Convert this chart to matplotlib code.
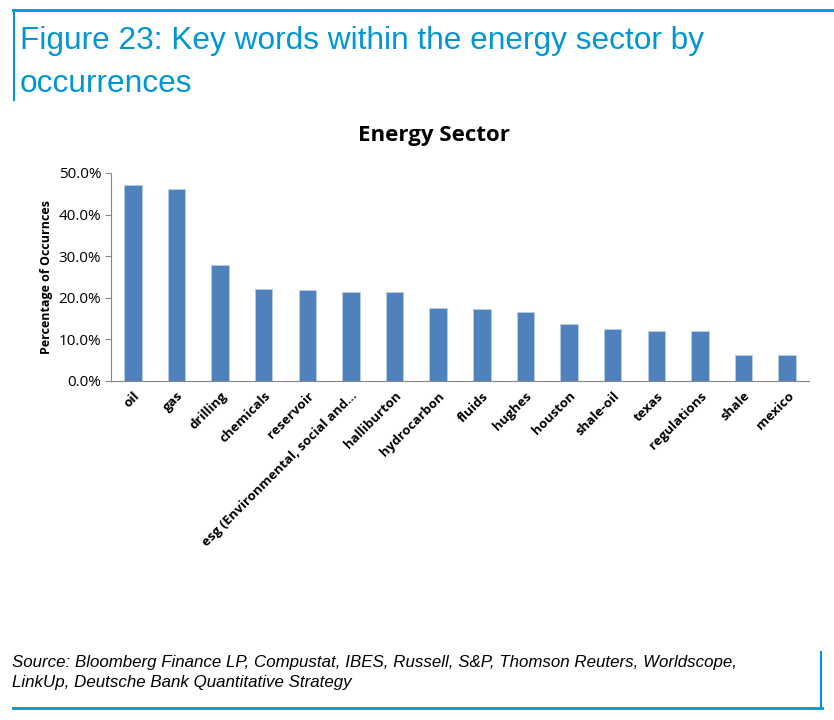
import matplotlib
matplotlib.use("Agg")
import matplotlib.pyplot as plt
from matplotlib.ticker import FuncFormatter, MultipleLocator
from matplotlib.lines import Line2D

categories = ["oil", "gas", "drilling", "chemicals", "reservoir",
              "esg (Environmental, social and...", "halliburton", "hydrocarbon",
              "fluids", "hughes", "houston", "shale-oil", "texas", "regulations",
              "shale", "mexico"]
values = [47.1, 46.2, 27.8, 22.1, 21.9, 21.4, 21.4, 17.5, 17.2, 16.7,
          13.6, 12.5, 12.0, 12.0, 6.25, 6.2]

W, H = 834, 720
fig = plt.figure(figsize=(W / 100, H / 100), dpi=100)

blue = "#0096D6"
# frame lines
fig.add_artist(Line2D([13 / W, 1.0], [1 - 10 / H, 1 - 10 / H], color=blue, lw=2))
fig.add_artist(Line2D([14 / W, 14 / W], [1 - 10 / H, 1 - 100 / H], color=blue, lw=1.5))
fig.add_artist(Line2D([13 / W, 822 / W], [1 - 708 / H, 1 - 708 / H], color=blue, lw=2))
fig.add_artist(Line2D([821 / W, 821 / W], [1 - 652 / H, 1 - 708 / H], color=blue, lw=1.5))

title_font = ["Liberation Sans", "DejaVu Sans"]
fig.text(20 / W, 1 - 41 / H, "Figure 23: Key words within the energy sector by",
         color=blue, fontsize=22.8, family=title_font, va="center", ha="left")
fig.text(20 / W, 1 - 84 / H, "occurrences",
         color=blue, fontsize=22.8, family=title_font, va="center", ha="left")

fig.text(12 / W, 1 - 662 / H,
         "Source: Bloomberg Finance LP, Compustat, IBES, Russell, S&P, Thomson Reuters, Worldscope,",
         fontsize=12.2, style="italic", family=title_font, va="center", ha="left")
fig.text(12 / W, 1 - 683 / H, "LinkUp, Deutsche Bank Quantitative Strategy",
         fontsize=12.2, style="italic", family=title_font, va="center", ha="left")

chart_font = ["Open Sans", "DejaVu Sans"]
ax = fig.add_axes([111 / W, 1 - 381 / H, (809 - 111) / W, (381 - 173) / H])
x = list(range(len(categories)))
ax.bar(x, values, width=0.4, color="#4F81BD", edgecolor="#B9CDE5", linewidth=0.6, zorder=2)
ax.set_xlim(-0.5, len(categories) - 0.5)
ax.set_ylim(0, 50)
ax.yaxis.set_major_locator(MultipleLocator(10))
ax.yaxis.set_major_formatter(FuncFormatter(lambda v, p: f"{v:.1f}%"))
for s in ["top", "right"]:
    ax.spines[s].set_visible(False)
ax.spines["left"].set_color("#868686")
ax.spines["bottom"].set_color("#868686")
ax.tick_params(axis="y", length=4, color="#868686", labelsize=11, pad=3)
ax.tick_params(axis="x", length=0, pad=6)
ax.set_xticks(x)
ax.set_xticklabels(categories, rotation=45, ha="right", rotation_mode="anchor",
                   fontsize=9.5, fontweight="bold", family=chart_font)
for lab in ax.get_yticklabels():
    lab.set_family(chart_font)
ax.set_ylabel("Percentage of Occurnces", fontsize=9, fontweight="bold",
              family=chart_font, labelpad=4)
fig.text(434 / W, 1 - 135 / H, "Energy Sector", fontsize=16, fontweight="bold",
         family=chart_font, ha="center", va="center")

fig.savefig("out.png", dpi=100)
